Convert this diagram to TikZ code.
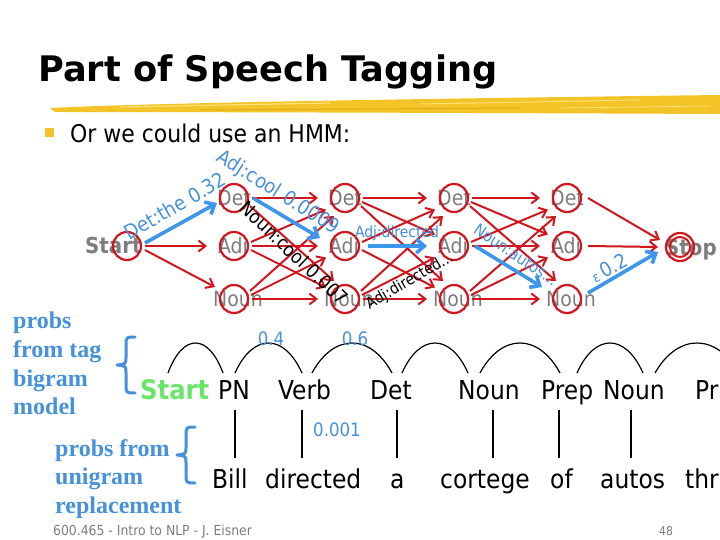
\documentclass[tikz,border=0pt]{standalone}
\usepackage{fontspec}
\setmainfont{DejaVu Sans Condensed}
\newfontfamily\titlef{DejaVu Sans}
\newfontfamily\serifb{Liberation Serif}
\usetikzlibrary{arrows.meta,calc}
\definecolor{redc}{RGB}{210,22,30}
\definecolor{bluea}{RGB}{60,150,235}
\definecolor{bluet}{RGB}{70,145,220}
\definecolor{greyt}{RGB}{125,125,125}
\definecolor{greens}{RGB}{105,230,105}
\definecolor{goldc}{RGB}{243,196,40}
\definecolor{goldl}{RGB}{252,224,120}
\definecolor{goldd}{RGB}{225,170,20}
\tikzset{
  st/.style={circle,draw=redc,line width=2.2pt,minimum size=28pt,inner sep=0pt},
  stlab/.style={anchor=base,inner sep=0pt,text=greyt,font=\fontsize{21}{24}\selectfont},
  redarr/.style={draw=redc,line width=2pt,-{Straight Barb[length=7pt,width=11pt]}},
  bluearr/.style={draw=bluea,line width=3.6pt,-{Straight Barb[length=8pt,width=14pt]}},
  elab/.style={inner sep=0pt,text=bluet},
  tag/.style={anchor=base west,inner sep=0pt,font=\fontsize{26}{30}\selectfont},
  blk/.style={anchor=base west,inner sep=0pt,text=bluet,font=\serifb\bfseries\fontsize{24}{28}\selectfont},
  arc/.style={draw=black,line width=1.2pt},
  vl/.style={draw=black,line width=1.3pt},
  brace/.style={draw=bluet,line width=3pt,line cap=round,line join=round}
}
\begin{document}
\begin{tikzpicture}[x=1pt,y=-1pt]
\useasboundingbox (0,0) rectangle (720,540);
\fill[white] (0,0) rectangle (720,540);
\begin{scope}
\clip (0,0) rectangle (720,540);
% title
\node[anchor=base west,inner sep=0pt,font=\titlef\bfseries\fontsize{35.2}{40}\selectfont] (title) at (38,82) {Part of Speech Tagging};
% brush stroke
\fill[goldc] (50,108) .. controls (150,103) and (400,99) .. (720,95) -- (720,114) .. controls (500,113) and (200,112) .. (55,112) -- cycle;
\draw[goldl,line width=1.2pt] (120,107) -- (330,103);
\draw[goldl,line width=1pt] (420,104) -- (640,100);
\draw[goldd,line width=1pt] (200,110) -- (520,108);
\draw[goldl,line width=0.8pt] (560,108) -- (710,106);
% bullet
\fill[goldc] (45,128) rectangle (54,137);
\node[anchor=base west,inner sep=0pt,font=\fontsize{24.4}{28}\selectfont] (bul) at (70,143) {Or we could use an HMM:};
% state labels
\node[anchor=base west,inner sep=0pt,text=greyt,font=\bfseries\fontsize{22}{26}\selectfont] (ls) at (85,254) {Start};
\node[anchor=base west,inner sep=0pt,text=greyt,font=\bfseries\fontsize{22}{26}\selectfont] (le) at (665,255) {Stop};
\foreach \c/\x in {1/234,2/345,3/454,4/567} {
  \node[stlab] (l\c1) at (\x,205.5) {Det};
  \node[stlab] (l\c2) at (\x-1,253.5) {Adj};
  \node[stlab] (l\c3) at (\x+4,306.5) {Noun};
}
% state circles
\node[st] (s) at (127,246) {};
\node[st] (e) at (680,247) {};
\node[circle,draw=redc,line width=2pt,minimum size=20pt,inner sep=0pt] (e2) at (680,247) {};
\foreach \c/\x in {1/234,2/345,3/454,4/567} {
  \node[st] (n\c1) at (\x,198) {};
  \node[st] (n\c2) at (\x,246) {};
  \node[st] (n\c3) at (\x,299) {};
}
% red edges between columns
\foreach \c in {1,2,3} {
 \foreach \i in {1,2,3} {
  \foreach \j in {1,2,3} {
   \pgfmathtruncatemacro\code{\c*100+\i*10+\j}
   \pgfmathtruncatemacro\nx{\c+1}
   \pgfmathsetmacro\dd{\j-\i}
   \pgfmathsetmacro\sx{18-abs(\dd)}
   \pgfmathsetmacro\sy{4*(\dd)}
   \pgfmathsetmacro\ex{-27+8*abs(\dd)}
   \pgfmathsetmacro\ey{-1*(\dd)*(14-2.5*abs(\dd))}
   \ifnum\code=112\relax\else\ifnum\code=222\relax\else\ifnum\code=323\relax\else
     \draw[redarr] ($(n\c\i)+(\sx,\sy)$) -- ($(n\nx\j)+(\ex,\ey)$);
   \fi\fi\fi
  }}}
\draw[redarr] ($(s)+(18,0)$) -- ($(n12)+(-27,0)$);
\draw[redarr] ($(s)+(18,4)$) -- ($(n13)+(-19,-12)$);
\draw[redarr] ($(n41)+(21,0)$) -- ($(e)+(-20,-7)$);
\draw[redarr] ($(n42)+(21,0)$) -- ($(e)+(-22,0)$);
% blue path
\draw[bluearr] ($(s)+(18,-3)$) -- ($(n11)+(-17,5)$);
\draw[bluearr] ($(n11)+(19,0)$) -- ($(n22)+(-25,-8)$);
\draw[bluearr] ($(n22)+(23,0)$) -- ($(n32)+(-27,0)$);
\draw[bluearr] ($(n32)+(21,0)$) -- ($(n43)+(-25,-12)$);
\draw[bluearr] ($(n43)+(21,-6)$) -- ($(e)+(-22,5)$);
% edge labels
\node[elab,rotate=30,font=\fontsize{20}{22}\selectfont] (k1) at (175,206) {Det:the 0.32};
\node[elab,rotate=-32,font=\fontsize{20}{22}\selectfont] (k2) at (278,193) {Adj:cool 0.0009};
\node[elab,text=black,rotate=-43.5,font=\fontsize{19}{22}\selectfont] (k3) at (294,253) {Noun:cool 0.007};
\node[elab,font=\fontsize{15.5}{18}\selectfont] (k4) at (397,233) {Adj:directed};
\node[elab,text=black,rotate=30,font=\fontsize{15.5}{18}\selectfont] (k5) at (410,281) {Adj:directed…};
\node[elab,rotate=-34,font=\fontsize{16}{18}\selectfont] (k6) at (516,255) {Noun:autos…};
\node[elab,rotate=28,font=\fontsize{20}{22}\selectfont] (k7) at (609,268) {{\fontsize{14}{16}\selectfont ε}\,0.2};
% left explanatory text
\node[blk] (p1) at (13,328) {probs};
\node[blk] (p2) at (13,357) {from tag};
\node[blk] (p3) at (13,386) {bigram};
\node[blk] (p4) at (13,414) {model};
\node[blk] (q1) at (55,456) {probs from};
\node[blk] (q2) at (55,484) {unigram};
\node[blk] (q3) at (55,513) {replacement};
% braces
\draw[brace] (135,337) .. controls (126,337) .. (126,346) -- (126,357) .. controls (126,364) .. (117,365) .. controls (126,366) .. (126,373) -- (126,384) .. controls (126,393) .. (135,393);
\draw[brace] (195,427) .. controls (186,427) .. (186,436) -- (186,447) .. controls (186,454) .. (177,455) .. controls (186,456) .. (186,463) -- (186,474) .. controls (186,483) .. (195,483);
% tag sequence
\node[tag,text=greens,font=\bfseries\fontsize{27}{30}\selectfont] (t0) at (140,399) {Start};
\node[tag] (t1) at (218,399) {PN};
\node[tag] (t2) at (278,399) {Verb};
\node[tag] (t3) at (370,399) {Det};
\node[tag] (t4) at (458,399) {Noun};
\node[tag] (t5) at (541,399) {Prep};
\node[tag] (t6) at (603,399) {Noun};
\node[tag] (t7) at (695,399) {Pr};
% words
\node[tag] (w1) at (212,488) {Bill};
\node[tag] (w2) at (265,488) {directed};
\node[tag] (w3) at (390,488) {a};
\node[tag] (w4) at (440,488) {cortege};
\node[tag] (w5) at (550,488) {of};
\node[tag] (w6) at (600,488) {autos};
\node[tag] (w7) at (685,488) {thr};
% vertical links
\foreach \x in {235,302,397,493,559,631} { \draw[vl] (\x,410) -- (\x,458); }
% arcs
\foreach \a/\b in {168/223,235/302,312/392,402/468,480/560,577/643,655/739} {
  \pgfmathsetmacro\ca{\a+0.27*(\b-\a)}
  \pgfmathsetmacro\cb{\b-0.27*(\b-\a)}
  \draw[arc] (\a,373) .. controls (\ca,333) and (\cb,333) .. (\b,373);
}
% probabilities
\node[elab,font=\fontsize{18.5}{20}\selectfont] (r1) at (271,339) {0.4};
\node[elab,font=\fontsize{18.5}{20}\selectfont] (r2) at (355,339) {0.6};
\node[elab,font=\fontsize{18.5}{20}\selectfont] (r3) at (337,430) {0.001};
% footer
\node[anchor=base west,inner sep=0pt,text=greyt,font=\fontsize{13.8}{16}\selectfont] (foot) at (53,535.5) {600.465 - Intro to NLP - J. Eisner};
\node[inner sep=0pt,text=greyt,font=\fontsize{12}{14}\selectfont] (pg) at (666,531) {48};
\end{scope}
\end{tikzpicture}
\end{document}
